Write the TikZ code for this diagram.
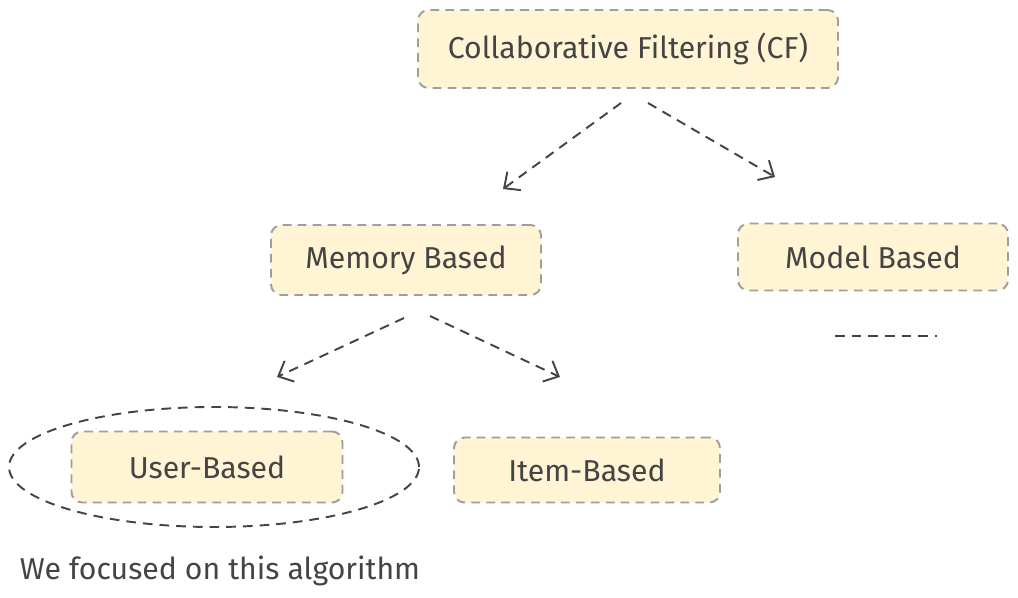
\documentclass[tikz,border=0pt]{standalone}
\usepackage{fontspec}
\setmainfont{Fira Sans}
\usetikzlibrary{arrows.meta,shapes.geometric}
\definecolor{boxfill}{HTML}{FFF4D3}
\definecolor{boxline}{HTML}{9E9E9E}
\definecolor{ink}{HTML}{444444}
\tikzset{
  box/.style={draw=boxline, fill=boxfill, dash pattern=on 5pt off 3.5pt, line width=1.1pt, rounded corners=6pt, font=\fontsize{17.2}{20}\selectfont, text=ink, inner sep=0pt},
  conn/.style={draw=ink, line width=1.1pt, dash pattern=on 5.5pt off 4pt, -{Straight Barb[length=7pt,width=13pt,line width=1.1pt]}},
  lbl/.style={font=\fontsize{17.2}{20}\selectfont, text=ink}
}
\begin{document}
\begin{tikzpicture}[x=0.02cm,y=-0.02cm]
\useasboundingbox (0,0) rectangle (1018,598);
\node[box, minimum width=420*0.02cm, minimum height=78*0.02cm] (cf) at (628,49) {Collaborative Filtering (CF)};
\node[box, minimum width=270*0.02cm, minimum height=70*0.02cm] (mem) at (406,260) {Memory Based};
\node[box, minimum width=270*0.02cm, minimum height=67*0.02cm] (mod) at (873,257) {Model Based};
\node[box, minimum width=271*0.02cm, minimum height=71*0.02cm] (user) at (207,467) {User-Based};
\node[box, minimum width=266*0.02cm, minimum height=65*0.02cm] (item) at (587,470) {Item-Based};
\node[draw=ink, dash pattern=on 5.5pt off 4pt, line width=1.1pt, ellipse, minimum width=410*0.02cm, minimum height=120*0.02cm] (ell) at (214,467) {};
\node[lbl] (note) at (220,571) {We focused on this algorithm};
\coordinate (a1s) at (621,103); \coordinate (a1e) at (503,189);
\coordinate (a2s) at (648,103); \coordinate (a2e) at (775,177);
\coordinate (a3s) at (404,318); \coordinate (a3e) at (277,377);
\coordinate (a4s) at (430,316); \coordinate (a4e) at (560,377);
\draw[conn] (a1s) -- (a1e);
\draw[conn] (a2s) -- (a2e);
\draw[conn] (a3s) -- (a3e);
\draw[conn] (a4s) -- (a4e);
\coordinate (d1) at (835,336); \coordinate (d2) at (937,336);
\draw[draw=ink, line width=1.1pt, dash pattern=on 5.5pt off 4pt] (d1) -- (d2);
\end{tikzpicture}
\end{document}
